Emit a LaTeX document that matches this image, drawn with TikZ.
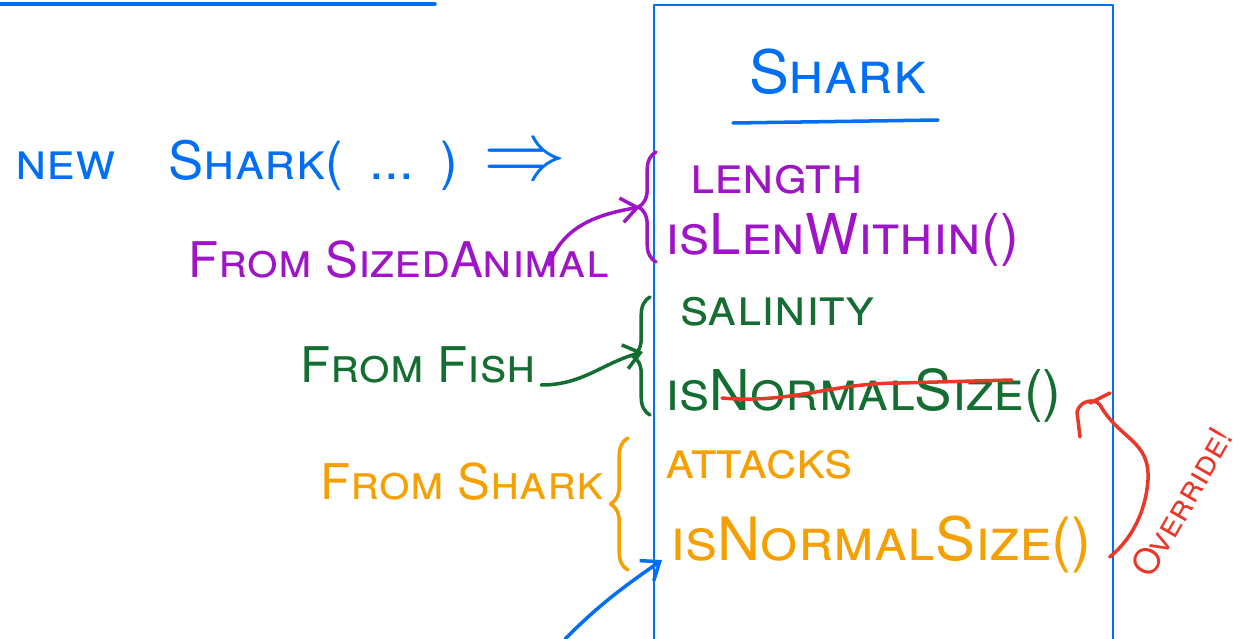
\documentclass[tikz,border=0pt]{standalone}
\usepackage{fontspec}
\setmainfont{TeX Gyre Heros}
\usetikzlibrary{arrows.meta,decorations.pathreplacing,calc}

\definecolor{inkblue}{RGB}{0,110,245}
\definecolor{inkpurple}{RGB}{160,20,200}
\definecolor{inkgreen}{RGB}{20,110,50}
\definecolor{inkorange}{RGB}{245,160,0}
\definecolor{inkred}{RGB}{235,55,40}

\tikzset{
  hand/.style={font=\scshape\fontsize{30}{32}\selectfont, inner sep=0pt, anchor=west},
  method/.style={hand, font=\scshape\fontsize{32}{34}\selectfont},
  origin/.style={hand, font=\scshape\fontsize{28}{30}\selectfont},
  ink/.style={line width=2pt, line cap=round, line join=round},
  tip/.style={-{Straight Barb[length=9pt,width=14pt]}},
  curly/.style={decorate, decoration={brace, amplitude=10pt}},
}

\begin{document}
\begin{tikzpicture}[x=0.02cm, y=-0.02cm]
\useasboundingbox (0,0) rectangle (1245,639);
% the class box
\draw[ink, inkblue, line width=1.5pt] (654,639) -- (654,5) -- (1113,5) -- (1113,639);
\draw[ink, inkblue] (0,4) -- (435,4);
\node[hand, inkblue, anchor=center, font=\scshape\fontsize{34}{36}\selectfont] (title) at (838,72) {Shark};
\draw[ink, inkblue] (733,123) -- (938,120);
\node[hand, inkblue] (new) at (15,165) {new\quad Shark(\enspace...\enspace)\enspace \scalebox{1.9}{$\Rightarrow$}};
% members
\node[hand, inkpurple] (length) at (690,180) {length};
\node[method, inkpurple] (within) at (665,240) {isLenWithin()};
\node[hand, inkgreen] (salinity) at (680,312) {salinity};
\node[method, inkgreen] (fishsize) at (665,395) {isNormalSize()};
\node[hand, inkorange] (attacks) at (665,465) {attacks};
\node[method, inkorange, font=\scshape\fontsize{34}{36}\selectfont] (sharksize) at (670,545) {isNormalSize()};
% where they come from
\node[origin, inkpurple] (sized) at (188,260) {From SizedAnimal};
\node[origin, inkgreen] (fromfish) at (300,365) {From Fish};
\node[origin, inkorange] (fromshark) at (320,482) {From Shark};
\node[hand, inkred, anchor=center, rotate=60, font=\scshape\fontsize{20}{22}\selectfont] (override) at (1182,502) {Override!};
% braces
\draw[ink, inkpurple, curly] (656,262) -- (656,152);
\draw[ink, inkgreen, curly] (650,415) -- (650,297);
\draw[ink, inkorange, curly] (628,570) -- (628,438);
\coordinate (pbrace) at (640,207);
\coordinate (gbrace) at (643,352);
\coordinate (caller) at (565,639);
% arrows
\draw[ink, inkpurple, tip] ($(sized.east)+(-60,5)$) to[out=70, in=190] (pbrace);
\draw[ink, inkgreen, tip] ($(fromfish.east)+(5,20)$) to[out=0, in=195] (gbrace);
\draw[ink, inkblue, tip] (caller) to[out=45, in=215] ($(sharksize.west)+(-8,15)$);
% overridden
\draw[ink, inkred] ($(fishsize.west)+(57,3)$) to[out=-5, in=180] (900,383) -- ($(fishsize.east)+(-50,-15)$);
\draw[ink, inkred] (1080,437) -- (1077,412) .. controls (1080,400) and (1095,398) .. (1100,405)
  .. controls (1120,440) and (1150,440) .. (1148,480)
  .. controls (1145,520) and (1125,545) .. ($(sharksize.east)+(18,12)$);
\draw[ink, inkred] (1090,403) -- (1110,393);
\end{tikzpicture}
\end{document}
